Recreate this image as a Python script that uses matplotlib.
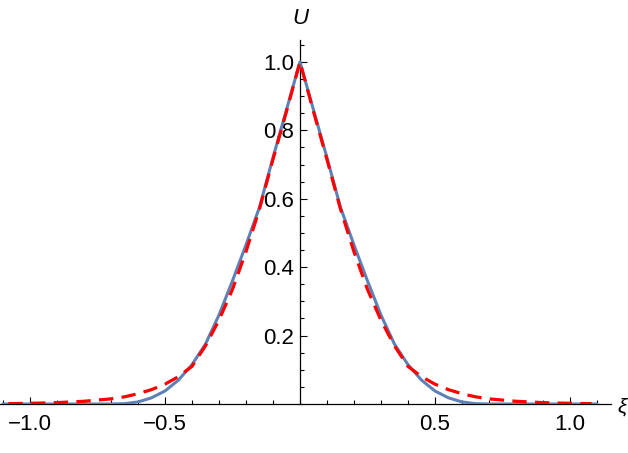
import matplotlib.pyplot as plt
from matplotlib.ticker import FixedLocator, MultipleLocator, FixedFormatter

# profile values (symmetric about x = 0)
x_vals = [-1.10, -1.00, -0.90, -0.80, -0.70, -0.65, -0.60, -0.55, -0.50, -0.45,
          -0.40, -0.35, -0.30, -0.25, -0.20, -0.15, -0.10, -0.05, 0.00,
          0.05, 0.10, 0.15, 0.20, 0.25, 0.30, 0.35, 0.40, 0.45,
          0.50, 0.55, 0.60, 0.65, 0.70, 0.80, 0.90, 1.00, 1.10]
u_blue = [0.0, 0.0, 0.0, 0.0, 0.0, 0.001, 0.006, 0.018, 0.038, 0.07,
          0.115, 0.175, 0.26, 0.36, 0.465, 0.575, 0.72, 0.86, 1.0,
          0.86, 0.72, 0.575, 0.465, 0.36, 0.26, 0.175, 0.115, 0.07,
          0.038, 0.018, 0.006, 0.001, 0.0, 0.0, 0.0, 0.0, 0.0]
x_red = [-1.08, -1.00, -0.90, -0.80, -0.70, -0.65, -0.60, -0.55, -0.50, -0.45,
         -0.40, -0.35, -0.30, -0.25, -0.20, -0.15, -0.10, -0.05, 0.00,
         0.05, 0.10, 0.15, 0.20, 0.25, 0.30, 0.35, 0.40, 0.45,
         0.50, 0.55, 0.60, 0.65, 0.70, 0.80, 0.90, 1.00, 1.08]
u_red = [0.001, 0.002, 0.004, 0.008, 0.015, 0.021, 0.03, 0.042, 0.058, 0.08,
         0.11, 0.17, 0.245, 0.335, 0.445, 0.57, 0.715, 0.855, 1.0,
         0.855, 0.715, 0.57, 0.445, 0.335, 0.245, 0.17, 0.11, 0.08,
         0.058, 0.042, 0.03, 0.021, 0.015, 0.008, 0.004, 0.002, 0.001]

x_major = [-1.0, -0.5, 0.5, 1.0]
x_major_labels = ['\u22121.0', '\u22120.5', '0.5', '1.0']
y_major = [0.2, 0.4, 0.6, 0.8, 1.0]
y_major_labels = ['0.2', '0.4', '0.6', '0.8', '1.0']

plt.rcParams['font.family'] = ['Liberation Sans', 'DejaVu Sans']

fig = plt.figure(figsize=(6.28, 4.53), dpi=100)
ax = fig.add_axes([0.0, 49 / 453, 611 / 628, 364 / 453])

ax.plot(x_vals, u_blue, color='#5E81B5', lw=2.2, solid_capstyle='round')
ax.plot(x_red, u_red, color='red', lw=2.3, dashes=(4.5, 2.6))

ax.set_xlim(-1.111, 1.152)
ax.set_ylim(0, 1.064)

for s in ['top', 'right']:
    ax.spines[s].set_visible(False)
ax.spines['left'].set_position(('data', 0))
ax.spines['bottom'].set_position(('data', 0))
for s in ['left', 'bottom']:
    ax.spines[s].set_linewidth(0.9)
    ax.spines[s].set_zorder(0)

ax.xaxis.set_major_locator(FixedLocator(x_major))
ax.xaxis.set_major_formatter(FixedFormatter(x_major_labels))
ax.xaxis.set_minor_locator(MultipleLocator(0.1))
ax.yaxis.set_major_locator(FixedLocator(y_major))
ax.yaxis.set_major_formatter(FixedFormatter(y_major_labels))
ax.yaxis.set_minor_locator(MultipleLocator(0.05))

ax.tick_params(which='both', direction='in', width=0.8, labelsize=16)
ax.tick_params(which='major', length=5)
ax.tick_params(which='minor', length=3.2)
ax.tick_params(axis='x', pad=7)
ax.tick_params(axis='y', pad=4)

fig.text(300 / 628, 1 - 18 / 453, 'U', style='italic', fontsize=16,
         ha='center', va='center')
# axis label squeezed in at the right edge (cut off in the original)
fig.text(627 / 628, 1 - 407 / 453, '\u03be', style='italic', fontsize=15,
         ha='right', va='center')

fig.savefig('out.png', dpi=100)
